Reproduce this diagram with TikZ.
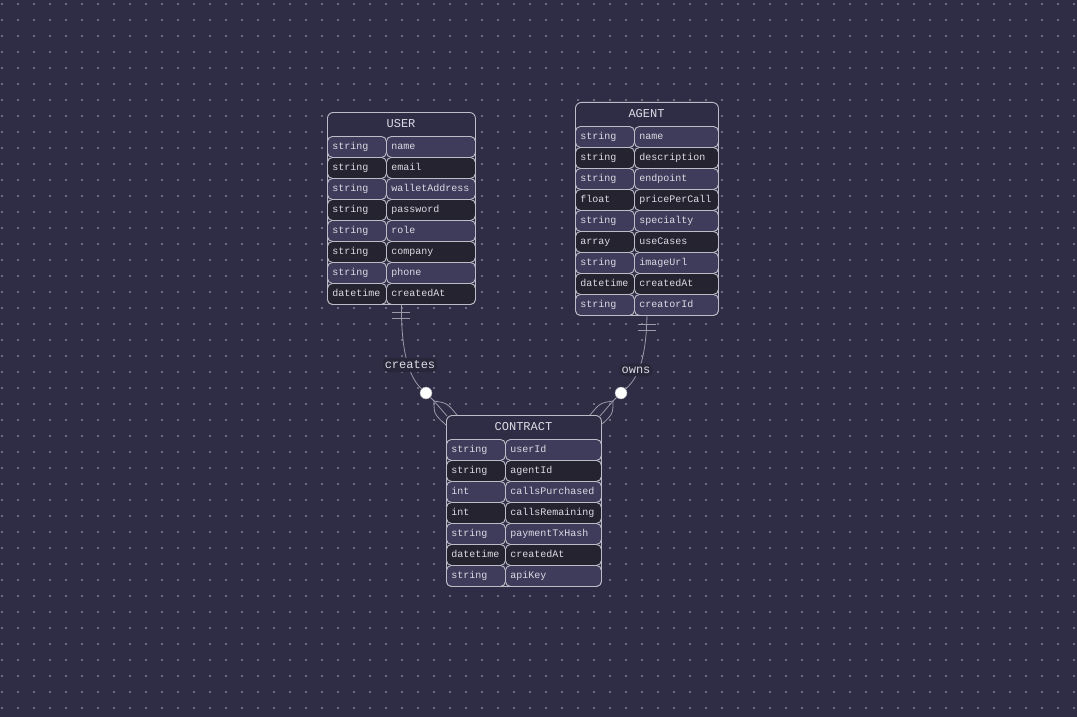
\documentclass[tikz,border=0pt]{standalone}
\usepackage{fontspec}
\setmonofont{Liberation Mono}
\usepackage{xcolor}
\usetikzlibrary{positioning}

\definecolor{bgc}{HTML}{2F2D46}
\definecolor{dotc}{HTML}{6E6D80}
\definecolor{rowlight}{HTML}{3E3B5B}
\definecolor{rowdark}{HTML}{24232F}
\definecolor{edgec}{HTML}{BDBDC8}
\definecolor{txtc}{HTML}{DCDCE4}
\definecolor{linkc}{HTML}{9A9AA8}
\definecolor{lblbg}{HTML}{28273A}

\begin{document}
\begin{tikzpicture}[x=1pt, y=-1pt,
    frame/.style={draw=edgec, fill=bgc, rounded corners=6pt, line width=0.9pt, anchor=north west, inner sep=0pt},
    title/.style={text=txtc, font=\ttfamily\fontsize{12}{12}\selectfont},
    cell/.style={draw=edgec, rounded corners=5pt, line width=0.9pt, anchor=north west, minimum height=21pt,
      inner xsep=5pt, inner ysep=0pt, align=left, text=txtc, text height=7pt, text depth=2pt,
      font=\ttfamily\fontsize{10}{10}\selectfont},
    row1/.style={fill=rowlight},
    row0/.style={fill=rowdark},
    rel/.style={draw=linkc, line width=0.8pt},
    optional/.style={circle, draw=linkc, fill=white, minimum size=12pt, inner sep=0pt},
    lbl/.style={fill=lblbg, rounded corners=5pt, text=txtc, inner xsep=2pt, inner ysep=3pt,
      font=\ttfamily\fontsize{12}{12}\selectfont}]

    % Background and dot grid
    \fill[bgc] (0,0) rectangle (1077,717);
    \foreach \x in {2,18,...,1077}
      \foreach \y in {4,20,...,717}
        \fill[dotc] (\x-1,\y-1) rectangle ++(2,2);

    % USER
    \node[frame, minimum width=148pt, minimum height=192pt] (user) at (327,112) {};
    \node[title] (user-title) at (401,124) {USER};
    \foreach \t/\n [count=\i] in {string/name, string/email, string/walletAddress, string/password,
        string/role, string/company, string/phone, datetime/createdAt} {
      \pgfmathtruncatemacro\p{mod(\i,2)}
      \node[cell, row\p, text width=49pt] (user-t\i) at (327,{115+21*\i}) {\t};
      \node[cell, row\p, text width=79pt] (user-n\i) at (386,{115+21*\i}) {\n};
    }

    % AGENT
    \node[frame, minimum width=143pt, minimum height=213pt] (agent) at (575,102) {};
    \node[title] (agent-title) at (646.5,114) {AGENT};
    \foreach \t/\n [count=\i] in {string/name, string/description, string/endpoint, float/pricePerCall,
        string/specialty, array/useCases, string/imageUrl, datetime/createdAt, string/creatorId} {
      \pgfmathtruncatemacro\p{mod(\i,2)}
      \node[cell, row\p, text width=49pt] (agent-t\i) at (575,{105+21*\i}) {\t};
      \node[cell, row\p, text width=74pt] (agent-n\i) at (634,{105+21*\i}) {\n};
    }

    % CONTRACT
    \node[frame, minimum width=155pt, minimum height=171pt] (contract) at (446,415) {};
    \node[title] (contract-title) at (523.5,427) {CONTRACT};
    \foreach \t/\n [count=\i] in {string/userId, string/agentId, int/callsPurchased, int/callsRemaining,
        string/paymentTxHash, datetime/createdAt, string/apiKey} {
      \pgfmathtruncatemacro\p{mod(\i,2)}
      \node[cell, row\p, text width=49pt] (contract-t\i) at (446,{418+21*\i}) {\t};
      \node[cell, row\p, text width=86pt] (contract-n\i) at (505,{418+21*\i}) {\n};
    }

    % USER creates CONTRACT
    \draw[rel] ([xshift=-9pt,yshift=-7pt]user.south) -- ++(18,0);
    \draw[rel] ([xshift=-9pt,yshift=-13pt]user.south) -- ++(18,0);
    \node[optional] (c1) at (426,393) {};
    \draw[rel] (user.south) .. controls (401,355) and (410,378) .. (c1);
    \coordinate (f1) at (434,401);
    \draw[rel] (c1) -- (f1);
    \draw[rel] (f1) .. controls (434,414) .. (446,425);
    \draw[rel] (f1) -- (447,416);
    \draw[rel] (f1) .. controls (447,403) .. (457,415);
    \node[lbl] (creates) at (410,365) {creates};

    % AGENT owns CONTRACT
    \draw[rel] ([xshift=-9pt,yshift=-8pt]agent.south) -- ++(18,0);
    \draw[rel] ([xshift=-9pt,yshift=-14pt]agent.south) -- ++(18,0);
    \node[optional] (c2) at (621,393) {};
    \draw[rel] (agent.south) .. controls (646,360) and (638,378) .. (c2);
    \coordinate (f2) at (613,401);
    \draw[rel] (c2) -- (f2);
    \draw[rel] (f2) .. controls (613,414) .. (601,425);
    \draw[rel] (f2) -- (600,416);
    \draw[rel] (f2) .. controls (600,403) .. (590,415);
    \node[lbl] (owns) at (636,370) {owns};
\end{tikzpicture}
\end{document}
